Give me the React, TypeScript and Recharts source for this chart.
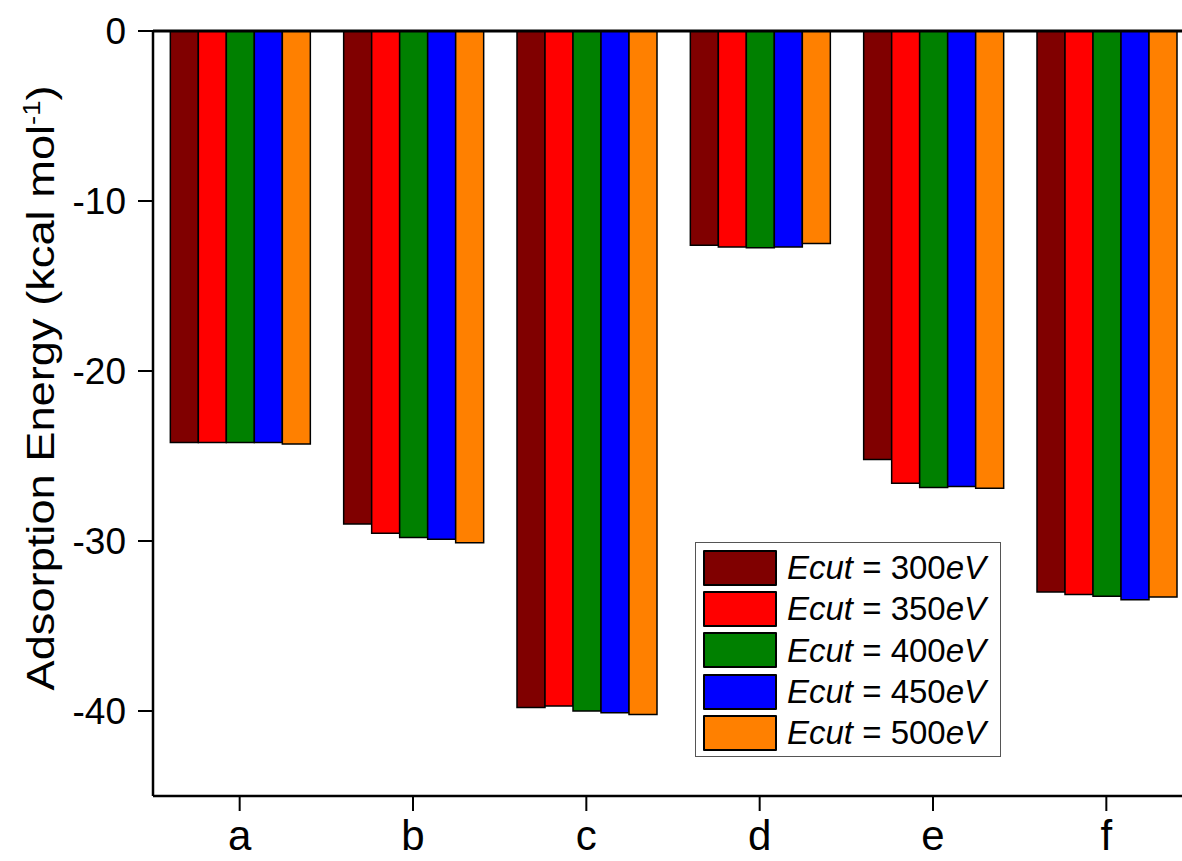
import { BarChart, Bar, XAxis, YAxis, Legend, ReferenceLine } from 'recharts';

const categories = ['a', 'b', 'c', 'd', 'e', 'f'];
const e300 = [-24.2, -29.0, -39.8, -12.6, -25.2, -33.0];
const e350 = [-24.2, -29.55, -39.7, -12.7, -26.6, -33.15];
const e400 = [-24.2, -29.8, -40.0, -12.75, -26.85, -33.25];
const e450 = [-24.2, -29.9, -40.1, -12.7, -26.8, -33.45];
const e500 = [-24.3, -30.1, -40.2, -12.5, -26.9, -33.3];
const yTicks = [0, -10, -20, -30, -40];

const series = [
  { key: 'e300', label: '300', color: '#800000', values: e300 },
  { key: 'e350', label: '350', color: '#FF0000', values: e350 },
  { key: 'e400', label: '400', color: '#008000', values: e400 },
  { key: 'e450', label: '450', color: '#0000FF', values: e450 },
  { key: 'e500', label: '500', color: '#FF8000', values: e500 },
];

const data = categories.map((name, i) => {
  const row: Record<string, string | number> = { name };
  for (const s of series) row[s.key] = s.values[i];
  return row;
});

const FONT = 'Arial, "Liberation Sans", sans-serif';

function LegendBox() {
  return (
    <div
      style={{
        border: '1.5px solid #555',
        background: '#fff',
        padding: '4px 6px 3px 7px',
        fontFamily: FONT,
        fontSize: 33,
        color: '#000',
        boxSizing: 'border-box',
        width: 306,
      }}
    >
      {series.map((s) => (
        <div key={s.key} style={{ display: 'flex', alignItems: 'center', height: 41.3 }}>
          <div
            style={{
              width: 74,
              height: 36,
              background: s.color,
              border: '2px solid #000',
              boxSizing: 'border-box',
              borderRadius: 1,
            }}
          />
          <span style={{ marginLeft: 10, whiteSpace: 'nowrap', lineHeight: 1 }}>
            <i>Ecut</i> = {s.label}<i>eV</i>
          </span>
        </div>
      ))}
    </div>
  );
}

function YLabel() {
  return (
    <text
      x={0}
      y={0}
      transform="translate(54, 388) rotate(-90)"
      textAnchor="middle"
      fontFamily={FONT}
      fontSize={38}
      fill="#000"
      textLength={605}
      lengthAdjust="spacingAndGlyphs"
    >
      Adsorption Energy (kcal mol
      <tspan dy={-14} fontSize={23}>-1</tspan>
      <tspan dy={14}>)</tspan>
    </text>
  );
}

export default function App() {
  return (
    <div style={{ position: 'absolute', left: 0, top: 0, width: 1182, height: 861, overflow: 'hidden', background: '#fff' }}>
      <BarChart
        width={1200}
        height={861}
        data={data}
        margin={{ top: 31, right: 7, bottom: 0, left: 0 }}
        barCategoryGap="10%"
        barGap={0}
      >
        <XAxis
          dataKey="name"
          height={65}
          axisLine={{ stroke: '#000', strokeWidth: 2.5 }}
          tickLine={{ stroke: '#000', strokeWidth: 2 }}
          tickSize={15}
          tickMargin={9}
          tick={{ fill: '#000', fontSize: 42, fontFamily: FONT }}
        />
        <YAxis
          width={153}
          domain={[-45, 0]}
          ticks={yTicks}
          allowDataOverflow
          axisLine={{ stroke: '#000', strokeWidth: 2.5 }}
          tickLine={{ stroke: '#000', strokeWidth: 2 }}
          tickSize={15}
          tickMargin={12}
          tick={{ fill: '#000', fontSize: 37, fontFamily: FONT }}
          label={{ content: () => <YLabel /> }}
        />
        {series.map((s) => (
          <Bar
            key={s.key}
            dataKey={s.key}
            fill={s.color}
            stroke="#000"
            strokeWidth={1.5}
            isAnimationActive={false}
          />
        ))}
        <ReferenceLine y={0} stroke="#000" strokeWidth={3} />
        <Legend
          layout="horizontal"
          verticalAlign="middle"
          align="center"
          content={() => <LegendBox />}
          wrapperStyle={{ left: 695, top: 542, width: 306 }}
        />
      </BarChart>
    </div>
  );
}
